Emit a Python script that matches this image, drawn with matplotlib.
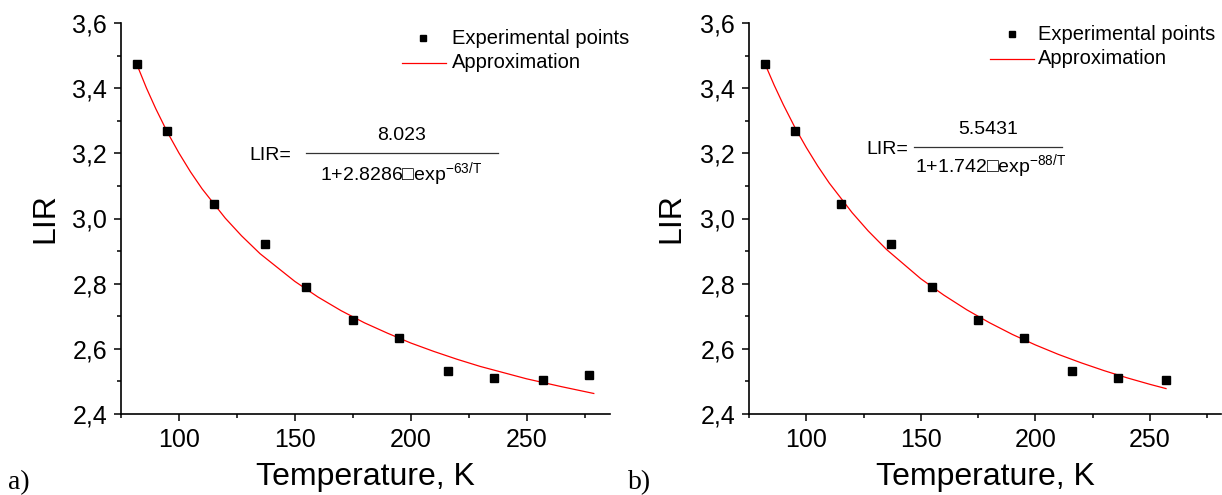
import numpy as np
import matplotlib.pyplot as plt
from matplotlib.ticker import MultipleLocator, FuncFormatter

plt.rcParams['font.family'] = ['Liberation Sans', 'DejaVu Sans']
plt.rcParams['mathtext.fontset'] = 'custom'
plt.rcParams['mathtext.rm'] = 'Liberation Sans'
plt.rcParams['mathtext.it'] = 'Liberation Sans'

# experimental points (same set on both panels, b) drops the last one)
temp_a = [82, 95, 115, 137, 155, 175, 195, 216, 236, 257, 277]
lir_a = [3.473, 3.268, 3.046, 2.922, 2.789, 2.689, 2.632, 2.531, 2.511, 2.504, 2.521]
temp_b = temp_a[:-1]
lir_b = lir_a[:-1]

# approximation curves
fit_t_a = [82, 86, 90, 95, 100, 105, 110, 120, 127, 135, 150, 160, 170, 180,
           190, 200, 210, 220, 230, 240, 250, 265, 279]
fit_v_a = [3.470, 3.400, 3.337, 3.265, 3.201, 3.143, 3.091, 3.001, 2.947, 2.892,
           2.807, 2.759, 2.717, 2.680, 2.648, 2.618, 2.592, 2.568, 2.546, 2.527,
           2.508, 2.484, 2.463]
fit_t_b = [82, 86, 90, 95, 100, 105, 110, 120, 127, 135, 150, 160, 170, 180,
           190, 200, 210, 220, 230, 240, 250, 257]
fit_v_b = [3.474, 3.409, 3.349, 3.280, 3.218, 3.161, 3.109, 3.018, 2.962, 2.905,
           2.815, 2.765, 2.720, 2.680, 2.644, 2.612, 2.583, 2.557, 2.533, 2.511,
           2.491, 2.478]

W, H = 1222, 495
fig = plt.figure(figsize=(W / 100, H / 100), dpi=100)


def px_axes(x0, x1, y0, y1):
    return fig.add_axes([x0 / W, 1 - y1 / H, (x1 - x0) / W, (y1 - y0) / H])


def style(ax, xmax, ylab_x):
    ax.set_xlim(75, xmax)
    ax.set_ylim(2.4, 3.6)
    for s in ('top', 'right'):
        ax.spines[s].set_visible(False)
    for s in ('left', 'bottom'):
        ax.spines[s].set_linewidth(1.2)
    ax.xaxis.set_major_locator(MultipleLocator(50))
    ax.xaxis.set_minor_locator(MultipleLocator(25))
    ax.yaxis.set_major_locator(MultipleLocator(0.2))
    ax.yaxis.set_minor_locator(MultipleLocator(0.1))
    ax.yaxis.set_major_formatter(FuncFormatter(lambda v, p: f'{v:.1f}'.replace('.', ',')))
    ax.tick_params(which='major', direction='out', length=5, width=1.1, labelsize=18, pad=5)
    ax.tick_params(which='minor', direction='out', length=3, width=1.1)
    ax.set_xlabel('Temperature, K', fontsize=23, va='center')
    ax.set_ylabel('LIR', fontsize=23, va='center', ha='center')
    ax.xaxis.set_label_coords(0.5, -0.16)
    ax.yaxis.set_label_coords(ylab_x, 0.5)


ax1 = px_axes(121, 610, 23, 414)
style(ax1, 286, -0.155)
ax1.plot(fit_t_a, fit_v_a, color='red', lw=0.9, label='Approximation', zorder=2)
ax1.plot(temp_a, lir_a, 's', color='black', ms=6, label='Experimental points', zorder=3)

ax2 = px_axes(749, 1221, 23, 414)
style(ax2, 281, -0.165)
ax2.plot(fit_t_b, fit_v_b, color='red', lw=0.9, label='Approximation', zorder=2)
ax2.plot(temp_b, lir_b, 's', color='black', ms=6, label='Experimental points', zorder=3)


def legend_px(mx, lx0, lx1, tx, y1, y2):
    fig.lines.append(plt.Line2D([mx / W], [1 - y1 / H], marker='s', color='black', ms=5,
                                transform=fig.transFigure, figure=fig))
    fig.lines.append(plt.Line2D([lx0 / W, lx1 / W], [1 - y2 / H, 1 - y2 / H], color='red',
                                lw=0.9, transform=fig.transFigure, figure=fig))
    fig.text(tx / W, 1 - y1 / H, 'Experimental points', fontsize=14.5, va='center')
    fig.text(tx / W, 1 - y2 / H, 'Approximation', fontsize=14.5, va='center')


legend_px(423, 402, 446, 452, 38, 63)
legend_px(1012, 990, 1034, 1038, 34, 59)


def equation(lx, lir_y, x0, x1, ly, num, num_y, den, den_x, den_y):
    fig.text(lx / W, 1 - lir_y / H, 'LIR=', fontsize=14, va='center')
    fig.lines.append(plt.Line2D([x0 / W, x1 / W], [1 - ly / H, 1 - ly / H], color='#333333',
                                lw=0.9, transform=fig.transFigure, figure=fig))
    fig.text((x0 + x1) / 2 / W, 1 - num_y / H, num, fontsize=14, ha='center', va='center')
    fig.text(den_x / W, 1 - den_y / H, den, fontsize=14, ha='left', va='center')


equation(249, 155, 306, 498, 153, '8.023', 136,
         '1+2.8286\u25a1exp$^{-63/T}$', 320, 174)
equation(866, 150, 914, 1062, 147, '5.5431', 129,
         '1+1.742\u25a1exp$^{-88/T}$', 915, 166)

fig.text(8 / W, 1 - 483 / H, 'a)', fontsize=20, family='Liberation Serif', va='center')
fig.text(628 / W, 1 - 483 / H, 'b)', fontsize=20, family='Liberation Serif', va='center')

fig.savefig('out.png', dpi=100)
